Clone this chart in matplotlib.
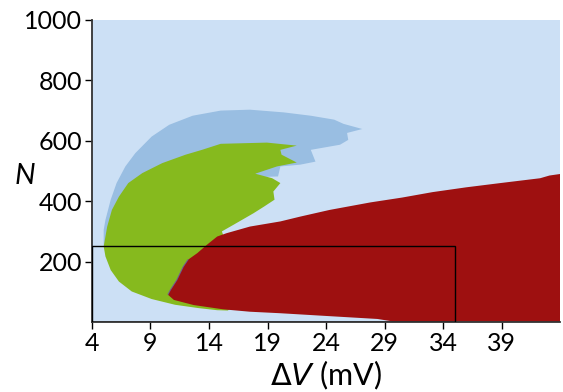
import matplotlib
matplotlib.use("Agg")
import matplotlib.pyplot as plt
from matplotlib.patches import Rectangle

# region outlines: (dV in mV, N)
blue_dv = [5.0, 5.0, 5.15, 5.6, 6.1, 6.85, 7.7, 9.1, 10.6, 12.6, 15.0, 17.5, 20.4,
           22.7, 24.7, 25.5, 27.1, 25.8, 25.9, 25.2, 22.7, 23.1, 21.8, 20.1, 19.9,
           18.5, 14.0, 8.0, 5.3]
blue_n = [250, 305, 338, 405, 460, 515, 559, 614, 653, 683, 700, 703, 694,
          683, 670, 656, 639, 626, 603, 587, 570, 531, 521, 515, 482,
          480, 400, 300, 250]

green_dv = [5.0, 5.3, 5.7, 6.3, 7.1, 8.3, 10.0, 12.0, 13.4, 15.0, 18.95, 21.5,
            20.1, 20.2, 21.5, 19.8, 17.95, 19.4, 20.1, 19.5, 19.6, 18.7, 17.8,
            16.1, 15.1, 16.0, 16.5, 15.6, 14.7, 13.1, 11.1, 9.1, 7.4, 6.3, 5.6, 5.15]
green_n = [250, 316, 371, 415, 460, 493, 526, 554, 570, 590, 594, 584,
           570, 554, 528, 515, 491, 476, 460, 432, 405, 382, 360,
           322, 300, 200, 60, 38, 39, 46, 57, 76, 101, 134, 172, 217]

red_dv = [14.7, 15.5, 17.5, 20.1, 21.8, 24.3, 27.8, 30.5, 33.1, 36.0, 38.9, 42.3,
          43.1, 44.0, 44.0, 29.7, 28.4, 24.0, 20.1, 17.5, 15.2, 12.7, 11.0, 10.5,
          10.7, 11.25, 11.8, 12.2, 13.0, 13.8]
red_n = [283, 294, 316, 333, 349, 371, 396, 412, 430, 446, 460, 476,
         485, 490, 0, 2, 10, 20, 29, 34, 42, 56, 73, 90,
         106, 139, 183, 206, 228, 255]

# thin violet rim on the left flank of the red region
rim_dv = [10.5, 10.7, 11.25, 11.8, 12.2]
rim_n = [92, 106, 139, 183, 206]

box_dv = (4, 35)
box_n = (0, 250)

x_ticks = [4, 9, 14, 19, 24, 29, 34, 39]
y_ticks = [200, 400, 600, 800, 1000]

LIGHT = "#cce0f5"
MID = "#99bee2"
GREEN = "#86ba1e"
RED = "#9e1010"

plt.rcParams["font.family"] = ["Lato", "DejaVu Sans"]

fig = plt.figure(figsize=(5.63, 3.92), dpi=100)
ax = fig.add_axes([0.1634, 0.1786, 0.8313, 0.7704])
ax.set_facecolor(LIGHT)

ax.fill(blue_dv, blue_n, color=MID, lw=0)
ax.fill(green_dv, green_n, color=GREEN, lw=0)
ax.fill(red_dv, red_n, color=RED, lw=0)
ax.plot(rim_dv, rim_n, color="#6a5aa8", lw=0.8, alpha=0.8)

ax.add_patch(Rectangle((box_dv[0], box_n[0]), box_dv[1] - box_dv[0], box_n[1] - box_n[0],
                       fill=False, ec="black", lw=1.0, zorder=5))

ax.set_xlim(4, 44)
ax.set_ylim(0, 1000)
ax.set_xticks(x_ticks)
ax.set_yticks(y_ticks)
ax.tick_params(direction="out", length=5, width=1, labelsize=18, pad=2)

for s in ("top", "right"):
    ax.spines[s].set_visible(False)
for s in ("left", "bottom"):
    ax.spines[s].set_linewidth(1.3)
    ax.spines[s].set_color("#333333")

ax.set_xlabel(r"$\Delta$$\it{V}$ (mV)", fontsize=22, labelpad=3)
fig.text(0.045, 0.552, "N", fontsize=21, style="italic", ha="center", va="center")

fig.savefig("out.png", dpi=100)
